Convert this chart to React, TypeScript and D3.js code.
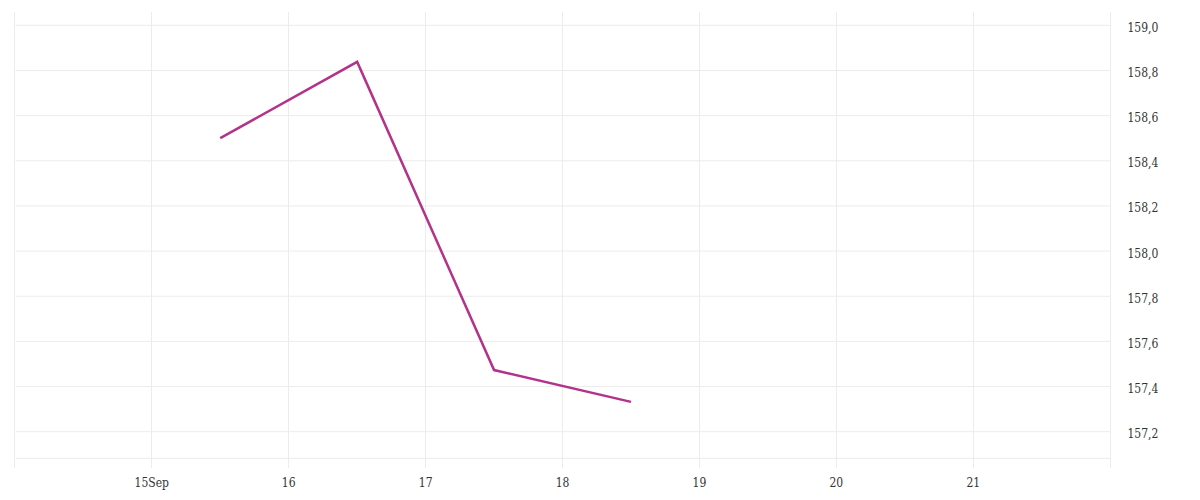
import React from "react";
import * as d3 from "d3";

const dates: Date[] = [
  new Date(2023, 8, 15, 12),
  new Date(2023, 8, 16, 12),
  new Date(2023, 8, 17, 12),
  new Date(2023, 8, 18, 12),
];
const values: number[] = [158.5, 158.838, 157.473, 157.332];
const yTicks: number[] = [157.2, 157.4, 157.6, 157.8, 158.0, 158.2, 158.4, 158.6, 158.8, 159.0];
const xTickDays: number[] = [14, 15, 16, 17, 18, 19, 20, 21, 22];
const xLabelDays: number[] = [15, 16, 17, 18, 19, 20, 21];

export default function App() {
  const W = 1200;
  const H = 500;
  const left = 14.9;
  const right = 1110.2;
  const top = 12;
  const bottom = 458.3;

  const x = d3
    .scaleTime()
    .domain([new Date(2023, 8, 14), new Date(2023, 8, 22)])
    .range([left, right]);
  // y(159.0)=25.3, y(157.2)=431.7
  const y = d3.scaleLinear().domain([157.2, 159.0]).range([431.7, 25.3]);

  const line = d3
    .line<number>()
    .x((_, i) => x(dates[i]))
    .y((v) => y(v));

  const grid = "#ececec";
  const fmt = (v: number) => v.toFixed(1).replace(".", ",");

  return (
    <svg
      width={W}
      height={H}
      style={{ position: "absolute", left: 0, top: 0, background: "#fff", fontStretch: "condensed" }}
      fontFamily="'DejaVu Serif Condensed', 'DejaVu Serif', serif"
      fontSize={12}
    >
      {yTicks.map((t) => (
        <line key={"h" + t} x1={15.5} x2={1110.5} y1={y(t)} y2={y(t)} stroke={grid} strokeWidth={1} />
      ))}
      <line x1={15.5} x2={1110.5} y1={bottom} y2={bottom} stroke={grid} strokeWidth={1} />
      {xTickDays.map((d) => {
        const xx = Math.floor(x(new Date(2023, 8, d))) + 0.5;
        return <line key={"v" + d} x1={xx} x2={xx} y1={top} y2={468} stroke={grid} strokeWidth={1} />;
      })}
      <path d={line(values) || ""} fill="none" stroke="#b3328a" strokeWidth={2.5} strokeLinejoin="miter" />
      {yTicks.map((t) => (
        <text key={"yl" + t} x={1127.5} y={y(t) + 6.5} fill="#333">
          {fmt(t)}
        </text>
      ))}
      {xLabelDays.map((d) => (
        <text key={"xl" + d} x={x(new Date(2023, 8, d))} y={487} textAnchor="middle" fill="#333">
          {d === 15 ? "15Sep" : String(d)}
        </text>
      ))}
    </svg>
  );
}
